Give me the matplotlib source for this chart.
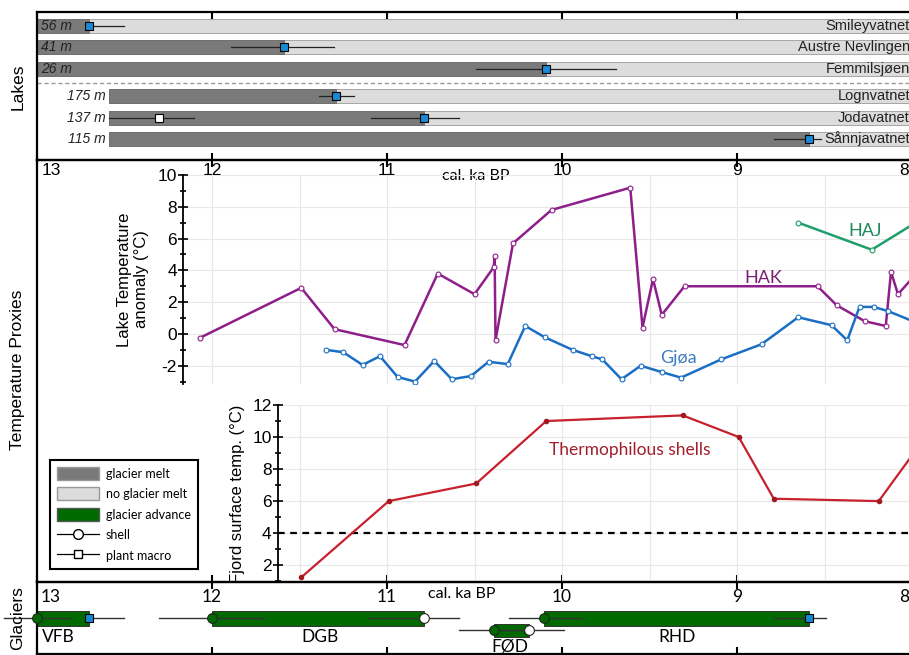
import matplotlib.pyplot as plt
from matplotlib.patches import Patch
from matplotlib.lines import Line2D

plt.rcParams['font.family'] = ['Liberation Sans', 'DejaVu Sans']
plt.rcParams['axes.unicode_minus'] = False
SOFT = ['Lato', 'DejaVu Sans']   # Myriad-like labels

# ---------------- data (ages in cal. ka BP) ----------------
lake_names = ['Smileyvatnet', 'Austre Nevlingen', 'Femmilsjøen',
              'Lognvatnet', 'Jodavatnet', 'Sånnjavatnet']
lake_depths = ['56 m', '41 m', '26 m', '175 m', '137 m', '115 m']
lake_start = [13.0, 13.0, 13.0, 12.59, 12.59, 12.59]
lake_melt_end = [12.70, 11.59, 10.09, 11.29, 10.79, 8.59]
lake_err_old = [12.70, 11.89, 10.49, 11.39, 11.09, 8.79]
lake_err_young = [12.50, 11.30, 9.69, 11.19, 10.59, 8.52]
joda_macro_age = 12.30
joda_macro_err = [12.59, 12.10]

hak_age = [12.07, 11.49, 11.30, 10.90, 10.71, 10.50, 10.39, 10.385, 10.38, 10.28,
           10.06, 9.61, 9.54, 9.48, 9.43, 9.30, 8.54, 8.43, 8.27, 8.15, 8.12, 8.08, 7.95]
hak_val = [-0.25, 2.9, 0.3, -0.7, 3.8, 2.5, 4.2, 4.9, -0.4, 5.7,
           7.8, 9.2, 0.4, 3.45, 1.2, 3.0, 3.0, 1.8, 0.8, 0.5, 3.9, 2.5, 4.1]

gjoa_age = [11.35, 11.25, 11.14, 11.04, 10.94, 10.84, 10.73, 10.63, 10.52, 10.42,
            10.31, 10.21, 10.10, 9.94, 9.83, 9.77, 9.66, 9.55, 9.43, 9.32,
            9.09, 8.86, 8.65, 8.46, 8.37, 8.30, 8.22, 8.14, 7.95]
gjoa_val = [-1.0, -1.15, -1.95, -1.4, -2.7, -3.0, -1.7, -2.85, -2.65, -1.75,
            -1.9, 0.5, -0.2, -1.0, -1.4, -1.6, -2.85, -2.0, -2.4, -2.75,
            -1.6, -0.65, 1.05, 0.55, -0.4, 1.7, 1.7, 1.45, 0.6]

haj_age = [8.65, 8.23, 7.95]
haj_val = [7.0, 5.3, 7.2]

shell_age = [11.49, 10.99, 10.49, 10.09, 9.31, 8.99, 8.79, 8.19, 7.95]
shell_val = [1.24, 6.0, 7.1, 11.0, 11.35, 10.0, 6.15, 6.0, 9.6]

glacier_names = ['VFB', 'DGB', 'FØD', 'RHD']
glacier_start = [13.0, 12.0, 10.39, 10.10]
glacier_end = [12.70, 10.79, 10.19, 8.59]
glacier_start_err = [(13.19, 12.81), (12.30, 11.70), (10.59, 10.19), (10.30, 9.89)]
glacier_end_err = [(12.70, 12.50), (11.10, 10.59), (10.39, 9.99), (8.79, 8.49)]
glacier_end_kind = ['plant', 'shell', 'shell', 'plant']
glacier_label_age = [12.88, 11.38, 10.30, 9.34]

age_ticks = [13, 12, 11, 10, 9, 8]

# ---------------- layout helpers ----------------
W, H = 909, 655
LEFT_PX, PX_PER_KA = 37, 175.0


def age_at(px):
    return 13.0 - (px - LEFT_PX) / PX_PER_KA


def rect(x0, y0, x1, y1):
    return [x0 / W, 1 - y1 / H, (x1 - x0) / W, (y1 - y0) / H]


XLIM = (13.0, age_at(W))
DARK, LIGHT, GREEN, BLUE = '#7a7a7a', '#dcdcdc', '#006a00', '#1a8ad4'
PURPLE, GJOA, HAJC, RED = '#8e1e8a', '#1a6fc4', '#1e9e6a', '#c8202c'

fig = plt.figure(figsize=(W / 100, H / 100), dpi=100)


def frame(ax):
    ax.set_facecolor('none')
    ax.spines['right'].set_visible(False)
    for s in ['top', 'bottom', 'left']:
        ax.spines[s].set_linewidth(1.6)
    ax.set_xticks(age_ticks)
    ax.tick_params(axis='x', which='both', direction='in', top=True, bottom=True,
                   length=5, width=1.5, labelbottom=False, labeltop=False)
    ax.set_yticks([])
    ax.set_xlim(*XLIM)


def tick_label_x(a):
    if a == 13:
        return 12.92
    if a == 8:
        return age_at(904)
    return a


# ---------------- Lakes ----------------
axl = fig.add_axes(rect(LEFT_PX, 12, W, 160))
frame(axl)
rows = [0, 1, 2, 3.3, 4.3, 5.3]
axl.set_ylim(6.29, -0.66)
for i, y in enumerate(rows):
    axl.barh(y, XLIM[1] - lake_start[i], left=lake_start[i], height=0.66,
             color=LIGHT, edgecolor='#9a9a9a', lw=0.6, zorder=1)
    axl.barh(y, lake_melt_end[i] - lake_start[i], left=lake_start[i], height=0.66,
             color=DARK, edgecolor='#6a6a6a', lw=0.6, zorder=2)
    axl.plot([lake_err_old[i], lake_err_young[i]], [y, y], color='#222', lw=0.9, zorder=3)
    axl.plot(lake_melt_end[i], y, 's', ms=6, mfc=BLUE, mec='black', mew=0.8, zorder=4)
    axl.text(age_at(910), y, lake_names[i], ha='right', va='center', fontsize=10.5,
             color='#222', zorder=5)
    if i < 3:
        axl.text(age_at(41), y, lake_depths[i], ha='left', va='center',
                 fontsize=10, style='italic', color='#222', zorder=5)
    else:
        axl.text(age_at(106), y, lake_depths[i], ha='right', va='center',
                 fontsize=10, style='italic', color='#222', zorder=5)
axl.plot(joda_macro_err, [rows[4]] * 2, color='#222', lw=0.9, zorder=3)
axl.plot(joda_macro_age, rows[4], 's', ms=6, mfc='white', mec='black', mew=0.8, zorder=4)
axl.axhline(2.68, color='#999', lw=1, ls=(0, (3, 2)), zorder=1)
axl.set_xlim(*XLIM)

# ---------------- Temperature proxies frame ----------------
axm = fig.add_axes(rect(LEFT_PX, 160, W, 582))
frame(axm)
axm.set_ylim(0, 1)
for a in age_ticks:
    axm.text(tick_label_x(a), 0.975, str(a), ha='center', va='center', fontsize=12.5)
axm.text(age_at(476), 0.963, 'cal. ka BP', ha='center', va='center', fontsize=11.5,
         family=SOFT)


def inner(ax, x0px, ylim):
    ax.set_facecolor('none')
    for s in ['top', 'right', 'bottom']:
        ax.spines[s].set_visible(False)
    ax.spines['left'].set_linewidth(1.3)
    ax.set_xticks([12.5, 12, 11.5, 11, 10.5, 10, 9.5, 9, 8.5, 8])
    ax.tick_params(axis='x', length=0, labelbottom=False)
    ax.tick_params(axis='y', which='both', direction='inout', length=7, width=1.2,
                   labelsize=12.5, pad=1)
    ax.tick_params(axis='y', which='minor', length=5)
    ax.grid(True, color='#e8e8e8', lw=0.8)
    ax.set_axisbelow(True)
    ax.set_xlim(age_at(x0px), XLIM[1])
    ax.set_ylim(*ylim)


mk = dict(marker='o', ms=3.5, mfc='white', mew=0.8)

# lake temperature anomaly
axt = fig.add_axes(rect(183, 175, W, 384))
axt.set_yticks([-2, 0, 2, 4, 6, 8, 10])
axt.set_yticks(range(-3, 10, 1), minor=True)
inner(axt, 183, (-3.15, 10))
axt.plot(hak_age, hak_val, color=PURPLE, lw=1.8, mec=PURPLE, **mk)
axt.plot(gjoa_age, gjoa_val, color=GJOA, lw=1.8, mec=GJOA, **mk)
axt.plot(haj_age, haj_val, color=HAJC, lw=1.8, mec=HAJC, **mk)
axt.text(age_at(763), 3.5, 'HAK', color='#7d1f79', fontsize=13, ha='center', va='center', family=SOFT)
axt.text(age_at(865), 6.5, 'HAJ', color='#1b8a5e', fontsize=13, ha='center', va='center', family=SOFT)
axt.text(age_at(678), -1.5, 'Gjøa', color='#3f7bbf', fontsize=13, ha='center', va='center', family=SOFT)
axt.set_ylabel('Lake Temperature\nanomaly (°C)', fontsize=12, labelpad=6, linespacing=1.15)
axt.set_xlim(age_at(183), XLIM[1])

# fjord surface temperature
axf = fig.add_axes(rect(278, 405, W, 582))
axf.set_yticks([2, 4, 6, 8, 10, 12])
axf.set_yticks(range(1, 13), minor=True)
inner(axf, 278, (0.95, 12))
axf.axhline(4, color='black', lw=1.6, ls=(0, (3, 2.5)))
axf.plot(shell_age, shell_val, color=RED, lw=1.6, marker='o', ms=3, mfc='#a01a22', mec='#a01a22')
axf.text(age_at(630), 9.2, 'Thermophilous shells', color='#a01f2a', fontsize=12.5,
         ha='center', va='center', family=SOFT)
axf.set_ylabel('Fjord surface temp. (°C)', fontsize=12, labelpad=5)
axf.set_xlim(age_at(278), XLIM[1])

# legend
handles = [Patch(facecolor=DARK, edgecolor='#999'),
           Patch(facecolor=LIGHT, edgecolor='#999'),
           Patch(facecolor=GREEN, edgecolor='#555'),
           Line2D([], [], color='black', lw=0.9, marker='o', ms=7, mfc='white', mec='black'),
           Line2D([], [], color='black', lw=0.9, marker='s', ms=6, mfc='white', mec='black')]
labels = ['glacier melt', 'no glacier melt', 'glacier advance', 'shell', 'plant macro']
leg = fig.legend(handles, labels, loc='upper left', bbox_to_anchor=(50 / W, 1 - 460 / H),
                 prop={'family': SOFT, 'size': 9}, fancybox=False, edgecolor='black',
                 framealpha=1, handlelength=3.4, handleheight=1.2, labelspacing=0.62,
                 borderpad=0.55, borderaxespad=0, handletextpad=0.5)
leg.get_frame().set_linewidth(1.5)

# ---------------- Glaciers ----------------
axg = fig.add_axes(rect(LEFT_PX, 582, W, 654))
frame(axg)
axg.set_ylim(72, 0)
for a in age_ticks:
    axg.text(tick_label_x(a), 15, str(a), ha='center', va='center', fontsize=12.5, family=SOFT)
axg.text(age_at(462), 12, 'cal. ka BP', ha='center', va='center', fontsize=11.5, family=SOFT)
for i, name in enumerate(glacier_names):
    y = 48 if name == 'FØD' else 36
    h = 13 if name == 'FØD' else 15
    axg.barh(y, glacier_end[i] - glacier_start[i], left=glacier_start[i], height=h,
             color=GREEN, edgecolor='#333', lw=0.7, zorder=1)
    for err in (glacier_start_err[i], glacier_end_err[i]):
        axg.plot(err, [y, y], color='#333', lw=1.0, zorder=2, clip_on=False)
    axg.plot(glacier_start[i], y, 'o', ms=7, mfc=GREEN, mec='#222', mew=0.8, zorder=3, clip_on=False)
    if glacier_end_kind[i] == 'plant':
        axg.plot(glacier_end[i], y, 's', ms=5.5, mfc=BLUE, mec='black', mew=0.8, zorder=3)
    else:
        axg.plot(glacier_end[i], y, 'o', ms=7, mfc='white', mec='#222', mew=0.8, zorder=3)
    ly = 65 if name == 'FØD' else 55
    axg.text(glacier_label_age[i], ly, name, ha='center', va='center', fontsize=12.5, family=SOFT)
axg.set_xlim(*XLIM)

# panel titles
fig.text(18 / W, 1 - 87 / H, 'Lakes', rotation=90, ha='center', va='center', fontsize=12.5)
fig.text(18 / W, 1 - 370 / H, 'Temperature Proxies', rotation=90, ha='center', va='center', fontsize=12.5)
fig.text(18 / W, 1 - 618 / H, 'Glaciers', rotation=90, ha='center', va='center', fontsize=12.5)

fig.savefig('out.png', dpi=100)
